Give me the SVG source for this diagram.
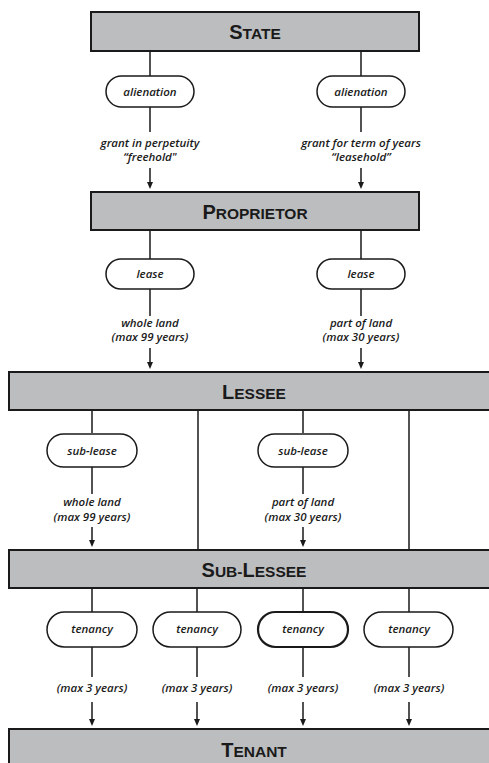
<svg xmlns="http://www.w3.org/2000/svg" width="489" height="763" viewBox="0 0 489 763">
<style>
.box{fill:#bcbdbf;stroke:#1a1a1a;stroke-width:2}
.pill{fill:#fff;stroke:#1a1a1a;stroke-width:1.5}
.ttl{font-family:"Liberation Sans",Arial,sans-serif;font-weight:700;fill:#1a1a1a;text-anchor:middle}
.big{font-size:20px}
.sm{font-size:15.5px}
.pt{font-family:"Open Sans","Noto Sans",sans-serif;font-style:italic;font-weight:600;font-size:11.5px;fill:#1a1a1a;text-anchor:middle}
.lb{font-family:"Open Sans","Noto Sans",sans-serif;font-style:italic;font-weight:600;font-size:11.5px;fill:#1a1a1a;text-anchor:middle}
.ln{stroke:#1a1a1a;stroke-width:1.5;fill:none}
</style>
<rect width="489" height="763" fill="#fff"/>

<g id="connectors">
<path class="ln" d="M150,51V76M150,106V132M150,168V183"/>
<path class="ln" d="M361,51V76M361,106V132M361,168V183"/>
<path class="ln" d="M150,230V259M150,289V316M150,348V363"/>
<path class="ln" d="M361,230V259M361,289V316M361,348V363"/>
<path class="ln" d="M92,410V433M92,467V494M92,527V541"/>
<path class="ln" d="M303,410V433M303,467V494M303,527V541"/>
<path class="ln" d="M198,410V550M409,410V550"/>
<path class="ln" d="M92,588V612M92,647V677M92,702V720"/>
<path class="ln" d="M197,588V612M197,647V677M197,702V720"/>
<path class="ln" d="M303,588V612M303,647V677M303,702V720"/>
<path class="ln" d="M409,588V612M409,647V677M409,702V720"/>
<g fill="#1a1a1a">
<path d="M147,182H153L150,189Z"/>
<path d="M358,182H364L361,189Z"/>
<path d="M147,362H153L150,369Z"/>
<path d="M358,362H364L361,369Z"/>
<path d="M89,540H95L92,547Z"/>
<path d="M300,540H306L303,547Z"/>
<path d="M89,719H95L92,726Z"/>
<path d="M194,719H200L197,726Z"/>
<path d="M300,719H306L303,726Z"/>
<path d="M406,719H412L409,726Z"/>
</g>
</g>

<g id="state">
<rect class="box" x="91" y="12" width="328" height="39"/>
<text class="ttl" x="255" y="38.5"><tspan class="big">S</tspan><tspan class="sm">TATE</tspan></text>
</g>

<g id="alienation1">
<rect class="pill" x="106" y="76" width="88" height="31" rx="15.5"/>
<text class="pt" x="150" y="95.5">alienation</text>
</g>
<g id="alienation2">
<rect class="pill" x="317" y="76" width="88" height="31" rx="15.5"/>
<text class="pt" x="361" y="95.5">alienation</text>
</g>
<g id="label-freehold">
<text class="lb" x="150" y="147">grant in perpetuity</text>
<text class="lb" x="150" y="161">“freehold"</text>
</g>
<g id="label-leasehold">
<text class="lb" x="361" y="147">grant for term of years</text>
<text class="lb" x="361" y="161">“leasehold”</text>
</g>

<g id="proprietor">
<rect class="box" x="91" y="192" width="328" height="38"/>
<text class="ttl" x="255" y="218.5"><tspan class="big">P</tspan><tspan class="sm">ROPRIETOR</tspan></text>
</g>

<g id="lease1">
<rect class="pill" x="106" y="259" width="88" height="30" rx="15"/>
<text class="pt" x="150" y="278">lease</text>
</g>
<g id="lease2">
<rect class="pill" x="317" y="259" width="88" height="30" rx="15"/>
<text class="pt" x="361" y="278">lease</text>
</g>
<g id="label-lease1">
<text class="lb" x="150" y="327">whole land</text>
<text class="lb" x="150" y="341">(max 99 years)</text>
</g>
<g id="label-lease2">
<text class="lb" x="361" y="327">part of land</text>
<text class="lb" x="361" y="341">(max 30 years)</text>
</g>

<g id="lessee">
<rect class="box" x="9" y="372" width="490" height="38"/>
<text class="ttl" x="254" y="398.5"><tspan class="big">L</tspan><tspan class="sm">ESSEE</tspan></text>
</g>

<g id="sublease1">
<rect class="pill" x="47" y="434" width="90" height="33" rx="16.5"/>
<text class="pt" x="92" y="455">sub-lease</text>
</g>
<g id="sublease2">
<rect class="pill" x="258" y="434" width="90" height="33" rx="16.5"/>
<text class="pt" x="303" y="455">sub-lease</text>
</g>
<g id="label-sublease1">
<text class="lb" x="92" y="506">whole land</text>
<text class="lb" x="92" y="521">(max 99 years)</text>
</g>
<g id="label-sublease2">
<text class="lb" x="303" y="506">part of land</text>
<text class="lb" x="303" y="521">(max 30 years)</text>
</g>

<g id="sub-lessee">
<rect class="box" x="9" y="550" width="490" height="38"/>
<text class="ttl" x="254" y="576.5"><tspan class="big">S</tspan><tspan class="sm">UB-</tspan><tspan class="big">L</tspan><tspan class="sm">ESSEE</tspan></text>
</g>

<g id="tenancy1">
<rect class="pill" x="47" y="612" width="90" height="35" rx="17.5"/>
<text class="pt" x="92" y="633">tenancy</text>
</g>
<g id="tenancy2">
<rect class="pill" x="153" y="612" width="88" height="35" rx="17.5"/>
<text class="pt" x="197" y="633">tenancy</text>
</g>
<g id="tenancy3">
<rect class="pill" x="258" y="612" width="90" height="35" rx="17.5" style="stroke-width:2.2"/>
<text class="pt" x="303" y="633">tenancy</text>
</g>
<g id="tenancy4">
<rect class="pill" x="364" y="612" width="89" height="35" rx="17.5"/>
<text class="pt" x="409" y="633">tenancy</text>
</g>
<g id="label-tenancy">
<text class="lb" x="92" y="692">(max 3 years)</text>
<text class="lb" x="197" y="692">(max 3 years)</text>
<text class="lb" x="303" y="692">(max 3 years)</text>
<text class="lb" x="409" y="692">(max 3 years)</text>
</g>

<g id="tenant">
<rect class="box" x="9" y="729" width="490" height="40"/>
<text class="ttl" x="254" y="757"><tspan class="big">T</tspan><tspan class="sm">ENANT</tspan></text>
</g>
</svg>
